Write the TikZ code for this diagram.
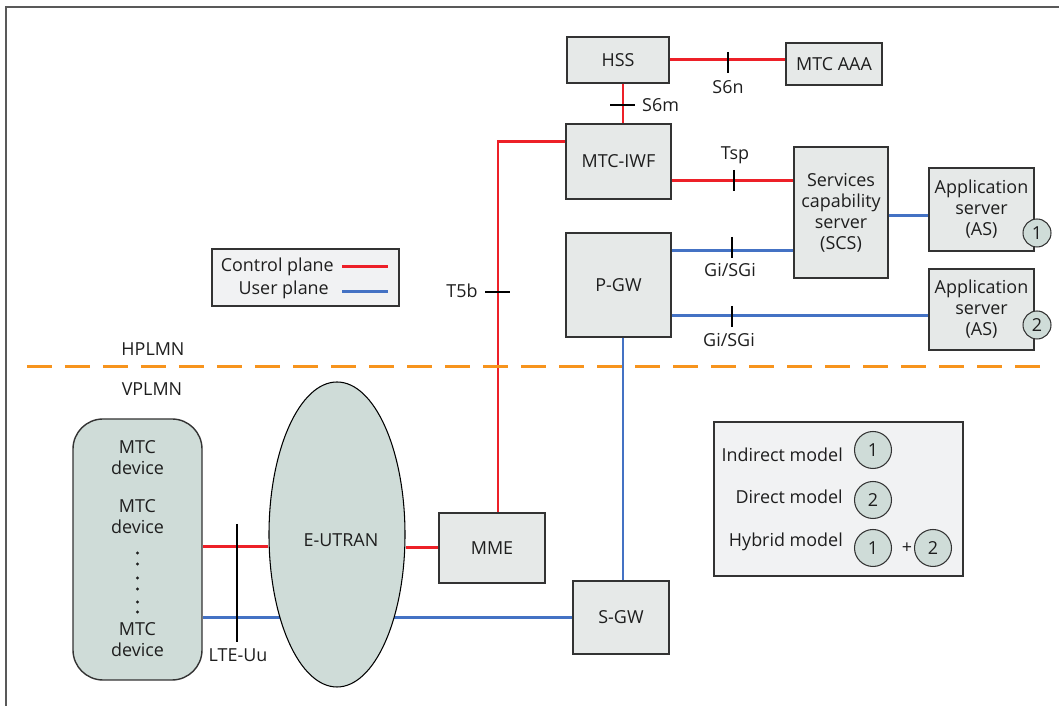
\documentclass[tikz,border=0pt]{standalone}
\usepackage{fontspec}
\setmainfont{Open Sans}
\usetikzlibrary{positioning, shapes.geometric, backgrounds, calc}
\definecolor{ctrlred}{RGB}{237,32,40}
\definecolor{userblue}{RGB}{68,114,196}
\definecolor{boxgray}{RGB}{230,233,232}
\definecolor{devgreen}{RGB}{207,220,216}
\definecolor{panelgray}{RGB}{241,242,243}
\definecolor{plmnorange}{RGB}{247,148,29}
\definecolor{textgray}{RGB}{30,30,30}
\tikzset{entity/.style={draw=black!80,line width=0.8pt,fill=boxgray,align=center,inner sep=0pt},
    panel/.style={draw=black!80,line width=0.8pt,fill=panelgray,inner sep=0pt},
    ctrl/.style={draw=ctrlred,line width=1.7pt},
    user/.style={draw=userblue,line width=1.7pt},
    iface/.style={draw=black,line width=1.2pt},
    modelnum/.style={circle,draw=black!80,line width=0.6pt,fill=devgreen,inner sep=0pt}}

\begin{document}
\begin{tikzpicture}[every node/.style={text=textgray,font=\fontsize{10.2}{12}\selectfont}]
    \useasboundingbox (0,0) rectangle (21.18,14.12);
    % Frame (top and left only)
    \draw[black!65, line width=1pt] (0.12,0) -- (0.12,13.98) -- (21.18,13.98);

    % Home network entities
    \node[entity, minimum width=2.04cm, minimum height=0.92cm] (hss) at (12.36,12.92) {HSS};
    \node[entity, minimum width=1.92cm, minimum height=0.84cm] (aaa) at (16.68,12.84) {MTC AAA};
    \node[entity, minimum width=2.1cm, minimum height=1.5cm]   (iwf) at (12.37,10.89) {MTC-IWF};
    \node[entity, minimum width=2.1cm, minimum height=2.08cm]  (pgw) at (12.37,8.42)  {P-GW};
    \node[entity, minimum width=1.88cm, minimum height=2.62cm] (scs) at (16.82,9.87)
        {Services\\capability\\server\\(SCS)};
    \node[entity, minimum width=2.1cm, minimum height=1.66cm]  (as1) at (19.63,9.93)
        {Application\\server\\(AS)};
    \node[entity, minimum width=2.1cm, minimum height=1.62cm]  (as2) at (19.63,7.93)
        {Application\\server\\(AS)};
    \node[modelnum, minimum size=0.56cm] (as1num) at (20.74,9.46) {1};
    \node[modelnum, minimum size=0.56cm] (as2num) at (20.74,7.62) {2};

    % Visited network entities
    \node[entity, minimum width=2.12cm, minimum height=1.4cm]  (mme) at (9.84,3.16) {MME};
    \node[entity, minimum width=1.92cm, minimum height=1.46cm] (sgw) at (12.42,1.77) {S-GW};
    \node[draw=black!80, line width=0.8pt, fill=devgreen, rounded corners=0.6cm,
        minimum width=2.58cm, minimum height=5.22cm] (dev) at (2.75,3.13) {};
    \node[ellipse, draw=black, line width=0.6pt, fill=devgreen, inner sep=0pt,
        minimum width=2.72cm, minimum height=6.1cm] (eutran) at (6.74,3.43) {};
    \node (eutranlbl) at (6.82,3.32) {E-UTRAN};
    \node[align=center] (dev1) at (2.75,4.96) {MTC\\device};
    \node[align=center] (dev2) at (2.75,3.78) {MTC\\device};
    \node[align=center] (dev3) at (2.75,1.32) {MTC\\device};
    \foreach \y in {3.06,2.84,2.56,2.34,2.08,1.88}
        \fill[textgray] (2.75,\y) circle (0.9pt);

    % Control plane
    \draw[ctrl] (hss.east) -- (hss.east -| aaa.west);
    \draw[ctrl] ([xshift=1mm]hss.south) -- ([xshift=1mm]hss.south |- iwf.north);
    \draw[ctrl] ([yshift=3.9mm]iwf.west) -| ([xshift=1.2mm]mme.north);
    \draw[ctrl] ([yshift=-3.9mm]iwf.east) -- ([yshift=-3.9mm]iwf.east -| scs.west);
    \draw[ctrl] ([yshift=0.5mm]dev.east) -- ([yshift=0.5mm]dev.east -| eutran.west);
    \draw[ctrl] (mme.west) -- (mme.west -| eutran.east);

    % User plane
    \draw[user] ([yshift=6.8mm]pgw.east) -- ([yshift=6.8mm]pgw.east -| scs.west);
    \draw[user] ([yshift=-6.2mm]pgw.east) -- ([yshift=-6.2mm]pgw.east -| as2.west);
    \draw[user] ([yshift=-0.7mm]scs.east) -- ([yshift=-0.7mm]scs.east -| as1.west);
    \draw[user] ([xshift=0.9mm]pgw.south) -- ([xshift=0.9mm]pgw.south |- sgw.north);
    \begin{scope}[on background layer]
        \draw[user] (sgw.west) -- (sgw.west -| dev.east);
    \end{scope}

    % Interface reference points
    \draw[iface] (14.56,13.08) -- (14.56,12.66);
    \node (s6n) at (14.56,12.38) {S6n};
    \draw[iface] (12.2,12.02) -- (12.7,12.02);
    \node[anchor=west] (s6m) at (12.72,12.02) {S6m};
    \draw[iface] (14.68,10.72) -- (14.68,10.3);
    \node (tsp) at (14.7,11.02) {Tsp};
    \draw[iface] (14.64,9.38) -- (14.64,8.96);
    \node (gisgi1) at (14.6,8.72) {Gi/SGi};
    \draw[iface] (14.64,8.0) -- (14.64,7.58);
    \node (gisgi2) at (14.58,7.32) {Gi/SGi};
    \draw[iface] (9.7,8.28) -- (10.2,8.28);
    \node (t5b) at (9.24,8.3) {T5b};
    \draw[iface] (4.74,3.64) -- (4.74,1.28);
    \node (lteuu) at (4.76,1.02) {LTE-Uu};

    % HPLMN / VPLMN border
    \draw[plmnorange, line width=1.7pt, dash pattern=on 0.5cm off 0.26cm]
        (0.54,6.78) -- (20.9,6.78);
    \node (hplmn) at (3.06,7.14) {HPLMN};
    \node (vplmn) at (3.04,6.34) {VPLMN};

    % Legend
    \node[panel, minimum width=3.74cm, minimum height=1.14cm] (legend) at (6.11,8.57) {};
    \node[anchor=east] (ctrllbl) at (6.8,8.78) {Control plane};
    \node[anchor=east] (userlbl) at (6.7,8.32) {User plane};
    \draw[ctrl] (6.84,8.78) -- (7.76,8.78);
    \draw[user] (6.84,8.28) -- (7.76,8.28);

    % Deployment models
    \node[panel, minimum width=4.98cm, minimum height=3.08cm] (models) at (16.77,4.14) {};
    \node[anchor=east] (indirect) at (16.98,5.02) {Indirect model};
    \node[anchor=east] (direct)   at (16.98,4.18) {Direct model};
    \node[anchor=east] (hybrid)   at (16.98,3.28) {Hybrid model};
    \node[modelnum, minimum size=0.74cm] (ind1) at (17.46,5.12) {1};
    \node[modelnum, minimum size=0.74cm] (dir2) at (17.46,4.12) {2};
    \node[modelnum, minimum size=0.74cm] (hyb1) at (17.46,3.16) {1};
    \node[modelnum, minimum size=0.74cm] (hyb2) at (18.66,3.16) {2};
    \node (plus) at (18.14,3.16) {+};
\end{tikzpicture}
\end{document}
